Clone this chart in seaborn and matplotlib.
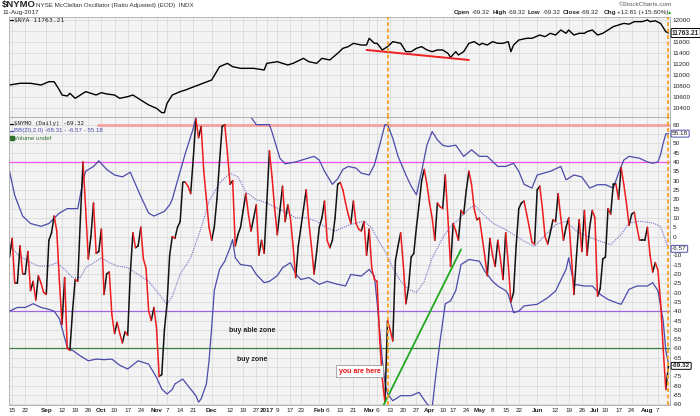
import numpy as np
import pandas as pd
import seaborn as sns
import matplotlib.pyplot as plt

# trading calendar (NYSE holidays removed)
holidays = ["2016-09-05", "2016-11-24", "2016-12-26", "2017-01-02", "2017-01-16",
            "2017-02-20", "2017-04-14", "2017-05-29", "2017-07-04"]
days = pd.bdate_range("2016-08-12", "2017-08-11")
days = days[~days.isin(pd.to_datetime(holidays))]

# $NYMO daily values (one per trading day)
nymo = [-11, -1, -25, -25, -5, -20, -20, -8, -29, -24,
        -34, -21, -25, -30, -31, -2, 2, 11, 3, -24,
        -47, -22, -60, -61, -40, -23, -24, 10, 40, 15,
        -12, 0, 18, -9, -8, 4, -31, -20, -19, -42,
        -52, -46, -52, -57, -51, -53, -20, 2, -6, -5,
        5, -12, -17, -40, -45, -38, -49, -75, -74, -50,
        -36, -10, 0, -1, 5, 8, 29, 29, 27, 23,
        42, 63, 53, 59, 35, 20, 5, -2, 5, 20,
        40, 59, 60, 45, 28, 30, -5, 1, 5, 14,
        23, 12, 3, 10, 17, -10, -2, -9, 18, 46,
        32, 15, 1, 14, 27, 8, 17, 10, -5, -22,
        -5, 5, 15, 25, 8, -5, -20, -8, 5, 10,
        19, -2, -6, -2, 10, 28, 29, 25, 18, 12,
        7, 19, 7, 4, 3, 8, -10, 4, -17, -23,
        -24, -55, -76, -89, -45, -50, -56, -13, -5, 2,
        -15, -36, -27, -11, -9, 5, 17, 30, 36, 28,
        18, 10, -2, 18, 16, 15, 33, 10, -16, 7,
        3, -2, 14, 12, 25, 35, 28, 15, 9, 10,
        0, -10, -21, -1, -10, -16, -2, -12, -23, 2,
        -15, -35, -30, -5, 15, 18, 19, 12, 5, -3,
        -4, 25, 27, 15, 0, -4, 2, 9, 8, 23,
        10, -2, 5, 10, -10, -31, -10, 9, -8, 14,
        -10, 5, 14, 10, -32, -28, -12, -11, 15, 12,
        28, 28, 20, 37, 28, 18, 6, 12, 13, 5,
        -2, -2, -2, 5, -10, -19, -14, -18, -35, -60,
        -82, -69.32]

# Bollinger bands BB(20,2.0) read at trading-day numbers
upper_days = [0, 2, 5, 8, 12, 15, 19, 22, 26, 28, 29, 32, 34, 37, 40, 43, 46, 48, 50, 53,
              55, 59, 61, 62, 64, 67, 70, 71, 73, 76, 80, 84, 88, 91, 92, 94, 99, 100, 103, 105,
              109, 116, 118, 120, 123, 125, 127, 129, 132, 134, 137, 139, 141, 143, 144, 146, 148, 151, 153, 155,
              157, 159, 161, 163, 165, 167, 170, 173, 176, 179, 182, 186, 189, 192, 194, 196, 199, 201, 206, 210,
              212, 215, 218, 221, 224, 227, 230, 232, 234, 236, 240, 243, 245, 247, 248, 249, 250, 251]
upper_vals = [35, 22, 11, 7, 5.5, 7, 12.6, 15, 15, 30, 35, 37.6, 40.6, 36, 33, 32, 34.5, 28, 21.5, 12.6,
              11, 13.5, 17, 20, 30, 44.7, 58, 64, 72, 80, 84, 82, 76, 68, 64, 60, 60, 56, 42, 39,
              40, 43, 41, 35, 28, 31, 36, 37.6, 36.7, 34, 33, 38.5, 49, 60, 60, 52.7, 43, 33, 27, 22.4,
              35, 49, 56.3, 51.8, 49, 48.3, 49, 43, 46.5, 43, 43, 37.6, 37.6, 39.3, 35, 28, 26, 33, 35, 37.6,
              30.4, 33, 32, 26, 27.8, 27.8, 26, 34, 41, 43, 42, 40, 39.3, 40, 44, 50, 55, 55.18]

mid_days = [0, 3, 7, 11, 15, 18, 21, 24, 27, 29, 33, 35, 38, 41, 45, 49, 53, 57, 60, 62,
            65, 69, 73, 76, 80, 84, 87, 90, 94, 98, 102, 106, 109, 113, 117, 121, 124, 128, 132, 135,
            138, 140, 143, 146, 149, 152, 155, 158, 161, 165, 168, 171, 174, 177, 180, 184, 189, 192, 196, 200,
            203, 208, 212, 216, 220, 225, 229, 233, 236, 240, 245, 248, 250, 251]
mid_vals = [-4.3, -9.6, -13.2, -15.8, -15.8, -14, -17.6, -22, -22, -16.7, -13.2, -11.4, -14, -15.8, -16.7, -20.3, -24, -31, -36.3, -32,
            -20.3, -11.4, 4.6, 18.9, 28.7, 34, 32, 24, 19.8, 18, 15.3, 12.6, 10, 10, 8.2, 4.6, 2.9, 5.5, 7.3, 8.2,
            4.6, -0.7, -7.8, -16.7, -24, -28.3, -30, -24, -11.4, -0.7, 5.5, 9, 13.5, 17, 12.6, 7.3, 3.7, 1.1, -2.5, -5.2,
            -0.7, 6.4, 8.2, 2.9, 0.2, -2.5, -4.3, 1.1, 7.3, 8.2, 7.3, 5.5, -2.5, -6.57]

lower_days = [0, 3, 6, 9, 12, 15, 17, 19, 22, 24, 27, 30, 33, 36, 39, 42, 45, 49, 53, 56,
              58, 60, 62, 63, 66, 68, 71, 72, 73, 75, 76, 77, 78, 80, 82, 84, 85, 86, 88, 92,
              94, 97, 99, 102, 104, 107, 109, 111, 114, 118, 121, 125, 128, 130, 134, 137, 139, 140, 141, 142,
              143, 144, 146, 149, 153, 156, 159, 161, 162, 164, 166, 168, 170, 172, 175, 179, 181, 184, 186, 189,
              190, 192, 194, 196, 201, 205, 208, 212, 213, 215, 219, 222, 225, 228, 231, 233, 236, 239, 243, 245,
              247, 249, 250, 251]
lower_vals = [-40, -38, -38, -36, -38, -39, -40, -44, -59.5, -61, -64, -66.6, -65.7, -66, -65.7, -69, -71, -66.6, -68.4, -75.5,
              -81.7, -84.4, -82, -79, -76.4, -80, -85.3, -88.8, -87, -79, -66.6, -48.8, -29, -17.6, -13.2, -6, -1.6, -11.4, -15, -15.8,
              -20.3, -24.7, -24, -21, -16.7, -14, -20, -23, -22, -25.6, -24, -25.6, -26.5, -20.3, -21.2, -17.6, -21.2, -35, -50, -66,
              -78, -84.4, -88, -85.3, -85.3, -83.5, -89.7, -92, -79, -56, -36, -34.5, -29, -15, -12.3, -13.2, -18.5, -24, -26.5, -29,
              -31, -40.8, -40, -37.2, -36.3, -32.8, -29.2, -17.6, -11.4, -25.6, -26.5, -26.5, -31, -33.7, -35.4, -36.3, -28.3, -26.5, -26.5, -24.7,
              -29, -45, -61, -68.31]

# $NYA close read at trading-day numbers
nya_days = [0, 4, 8, 12, 15, 17, 19, 20, 22, 23, 25, 27, 29, 31, 33, 35, 37, 40, 42, 45,
            47, 50, 53, 56, 58, 59, 60, 62, 65, 67, 69, 77, 80, 83, 85, 88, 93, 97, 98, 102,
            106, 108, 112, 114, 117, 119, 122, 125, 127, 129, 131, 134, 136, 137, 139, 140, 142, 144, 146, 149,
            151, 153, 155, 157, 159, 161, 163, 165, 167, 168, 170, 171, 173, 175, 177, 179, 180, 182, 184, 186,
            188, 190, 191, 192, 194, 197, 199, 202, 204, 206, 208, 210, 212, 213, 215, 217, 219, 220, 222, 224,
            226, 227, 230, 232, 234, 236, 238, 241, 243, 244, 246, 248, 250, 251]
nya_vals = [10818, 10849, 10849, 10818, 10878, 10878, 10727, 10636, 10618, 10667, 10576, 10636, 10697, 10667, 10636, 10679, 10655, 10636, 10576, 10606,
            10636, 10545, 10455, 10394, 10315, 10315, 10485, 10636, 10697, 10727, 10764, 10909, 11151, 11212, 11151, 11121, 11121, 11091, 11212, 11242,
            11182, 11212, 11303, 11242, 11212, 11303, 11273, 11394, 11485, 11515, 11576, 11545, 11545, 11667, 11576, 11576, 11455, 11515, 11606, 11576,
            11424, 11424, 11485, 11515, 11455, 11424, 11455, 11455, 11394, 11321, 11424, 11364, 11424, 11576, 11606, 11545, 11576, 11545, 11606, 11576,
            11576, 11606, 11424, 11545, 11636, 11667, 11667, 11727, 11697, 11758, 11727, 11818, 11758, 11818, 11727, 11758, 11758, 11788, 11818, 11727,
            11758, 11788, 11879, 11909, 11939, 11924, 11970, 11970, 12000, 11970, 11985, 11939, 11788, 11763.21]

# drawn trendlines
nya_trend_days = [136, 175]
nya_trend_vals = [11455, 11273]
nymo_trend_days = [142.4, 172]
nymo_trend_vals = [-90.6, -6.9]

# x-axis labels
tick_dates = ["2016-08-15", "2016-08-22", "2016-09-01", "2016-09-12", "2016-09-19", "2016-09-26",
              "2016-10-03", "2016-10-10", "2016-10-17", "2016-10-24", "2016-11-01", "2016-11-07",
              "2016-11-14", "2016-11-21", "2016-12-01", "2016-12-12", "2016-12-19", "2016-12-27",
              "2017-01-03", "2017-01-09", "2017-01-17", "2017-01-23", "2017-02-01", "2017-02-06",
              "2017-02-13", "2017-02-21", "2017-03-01", "2017-03-06", "2017-03-13", "2017-03-20",
              "2017-03-27", "2017-04-03", "2017-04-10", "2017-04-17", "2017-04-24", "2017-05-01",
              "2017-05-08", "2017-05-15", "2017-05-22", "2017-06-01", "2017-06-12", "2017-06-19",
              "2017-06-26", "2017-07-03", "2017-07-10", "2017-07-17", "2017-07-24", "2017-08-01",
              "2017-08-07"]
tick_labels = ["15", "22", "Sep", "12", "19", "26", "Oct", "10", "17", "24", "Nov", "7",
               "14", "21", "Dec", "12", "19", "27", "2017", "9", "17", "23", "Feb", "6",
               "13", "21", "Mar", "6", "13", "20", "27", "Apr", "10", "17", "24", "May",
               "8", "15", "22", "Jun", "12", "19", "26", "Jul", "10", "17", "24", "Aug", "7"]
marker_days = ["2017-03-10", "2017-08-11"]

day_num = {d: k for k, d in enumerate(days)}
tick_pos = [day_num[pd.Timestamp(d)] for d in tick_dates]
marker_pos = [day_num[pd.Timestamp(d)] for d in marker_days]

sns.set_style("white")
plt.rcParams["font.family"] = ["Liberation Sans", "DejaVu Sans"]

W, H = 700, 416
fig = plt.figure(figsize=(7, 4.16), dpi=100)
ax1 = fig.add_axes([9 / W, 1 - 117 / H, 661 / W, 100.3 / H])
ax2 = fig.add_axes([9 / W, 1 - 405 / H, 661 / W, 288 / H])

blue = "#4b4bab"
grid_c = "#dadada"
for ax in (ax1, ax2):
    ax.set_facecolor("#f3f3f3")
    ax.set_xlim(-0.2, 251.6)
    ax.set_xticks(tick_pos)
    ax.grid(True, color=grid_c, lw=0.6)
    ax.yaxis.tick_right()
    ax.tick_params(length=0, labelsize=4.6, pad=2, colors="#222222")
    for s in ax.spines.values():
        s.set_color("#a8a8a8")
        s.set_linewidth(0.6)
    for m in marker_pos:
        ax.axvline(m, color="#f5a327", lw=1.3, ls=(0, (2.2, 1.4)), zorder=4)

# ---- top panel: $NYA
sns.lineplot(x=nya_days, y=nya_vals, color="black", lw=1.0, ax=ax1)
sns.lineplot(x=nya_trend_days, y=nya_trend_vals, color="#f02020", lw=1.4, ax=ax1)
ax1.set_ylim(10236, 12060)
top_ticks = np.arange(10400, 12001, 200)
ax1.set_yticks(top_ticks)
# the value box hides the 11800 label, as on the original
ax1.set_yticklabels(["" if t == 11800 else str(t) for t in top_ticks])
ax1.set_xticklabels([])
ax1.set_xlabel("")
ax1.set_ylabel("")
ax1.plot([0.0015, 0.006], [0.966, 0.966], transform=ax1.transAxes, color="black", lw=0.9)
ax1.text(0.008, 0.966, "$NYA 11763.21", transform=ax1.transAxes, fontsize=4.6,
         family="DejaVu Sans Mono", va="center")
ax1.annotate("11763.21", xy=(1, 11763.21), xycoords=("axes fraction", "data"),
             xytext=(1.5, 0), textcoords="offset points", ha="left", va="center",
             fontsize=4.8, fontweight="bold",
             bbox=dict(boxstyle="round,pad=0.15", fc="white", ec="black", lw=0.7),
             annotation_clip=False, zorder=6)

# ---- bottom panel: $NYMO with BB
ax2.set_ylim(-90.3, 64.1)
bot_ticks = np.arange(-90, 61, 5)
ax2.set_yticks(bot_ticks)
ax2.set_yticklabels(["" if t in (55, -5, -70) else str(t) for t in bot_ticks])
ax2.hlines(60, 33.3, 251.6, color="#f4a0a0", lw=2.0, zorder=1.5)
ax2.axhline(40, color="#ee55ee", lw=0.9, zorder=1.5)
ax2.axhline(-40, color="#a066e0", lw=0.9, zorder=1.5)
ax2.axhline(-60, color="#3d7d3d", lw=0.9, zorder=1.5)

sns.lineplot(x=upper_days, y=upper_vals, color=blue, lw=0.9, ax=ax2)
sns.lineplot(x=lower_days, y=lower_vals, color=blue, lw=0.9, ax=ax2)
sns.lineplot(x=mid_days, y=mid_vals, color="#6f6fc8", lw=0.8, ls=(0, (1, 1)), ax=ax2)

rows = []
for k in range(len(nymo) - 1):
    d = "up" if nymo[k + 1] >= nymo[k] else "down"
    rows.append((k, nymo[k], k, d))
    rows.append((k + 1, nymo[k + 1], k, d))
seg = pd.DataFrame(rows, columns=["day", "val", "seg", "dir"])
sns.lineplot(data=seg, x="day", y="val", hue="dir", units="seg", estimator=None,
             palette={"up": "#111111", "down": "#ee1c1c"}, lw=1.1, legend=False,
             sort=False, ax=ax2)
sns.lineplot(x=nymo_trend_days, y=nymo_trend_vals, color="#1faa1f", lw=1.3, ax=ax2)
ax2.set_xlabel("")
ax2.set_ylabel("")

ax2.set_xticklabels(tick_labels)
for lab in ax2.get_xticklabels():
    if not lab.get_text().isdigit() or lab.get_text() == "2017":
        lab.set_fontweight("bold")
ax2.tick_params(axis="x", pad=2.5)

ax2.text(92.4, -50.6, "buy able zone", fontsize=5, fontweight="bold", ha="center", va="center")
ax2.text(92.4, -65.8, "buy zone", fontsize=5, fontweight="bold", ha="center", va="center")
ax2.text(133.3, -72.3, "you are here", fontsize=5, fontweight="bold", color="#ee1111",
         ha="center", va="center",
         bbox=dict(boxstyle="square,pad=0.35", fc="white", ec="#9a9a9a", lw=0.6), zorder=5)

# legend block
leg = [("$NYMO (Daily) -69.32", "black", "#222222"),
       ("BB(20,2.0) -68.31 - -6.57 - 55.18", blue, blue),
       ("Volume undef", "#2f6f2f", "#2f6f2f")]
for j, (txt, lc, tc) in enumerate(leg):
    y = 0.976 - j * 0.0245
    if j < 2:
        ax2.plot([0.0015, 0.006], [y, y], transform=ax2.transAxes, color=lc, lw=0.9)
    else:
        ax2.plot([0.004], [y], transform=ax2.transAxes, marker="s", ms=2.4, color=lc)
    ax2.text(0.008, y, txt, transform=ax2.transAxes,
             fontsize=4.2 if j == 0 else 4.4, color=tc,
             family="DejaVu Sans Mono" if j == 0 else ["Liberation Sans", "DejaVu Sans"],
             va="center")

# value boxes on the right axis
for val, txt, ec, bold in [(55.18, "55.18", blue, False), (-6.57, "-6.57", blue, False),
                           (-69.32, "-69.32", "black", True)]:
    ax2.annotate(txt, xy=(1, val), xycoords=("axes fraction", "data"),
                 xytext=(1.5, 0), textcoords="offset points", ha="left", va="center",
                 fontsize=4.6, fontweight="bold" if bold else "normal",
                 bbox=dict(boxstyle="round,pad=0.15", fc="white", ec=ec, lw=0.7),
                 annotation_clip=False, zorder=6)

# header
fig.text(2 / W, 1 - 5 / H, "$NYMO", fontsize=6.8, fontweight="bold", va="center")
fig.text(36 / W, 1 - 5 / H, "NYSE McClellan Oscillator (Ratio Adjusted) (EOD)  INDX",
         fontsize=4.5, va="center", color="#333333")
fig.text(2 / W, 1 - 12.5 / H, "11-Aug-2017", fontsize=4.6, va="center")
fig.text(672 / W, 1 - 5 / H, "\u00a9StockCharts.com", fontsize=4.6, va="center", ha="right",
         color="#555555")
ohlc = [(454, "Open", True), (472, "-69.32", False), (493, "High", True), (508, "-69.32", False),
        (528, "Low", True), (543, "-69.32", False), (563, "Close", True), (581, "-69.32", False),
        (604, "Chg", True), (617, "+12.81 (+15.60%)", False)]
for px, txt, bold in ohlc:
    fig.text(px / W, 1 - 12.7 / H, txt, fontsize=4.6, va="center", ha="left",
             fontweight="bold" if bold else "normal")
fig.text(667 / W, 1 - 12.7 / H, "\u25b2", fontsize=3.8, va="center", ha="left", color="#22aa22")

fig.savefig("out.png", dpi=100)
